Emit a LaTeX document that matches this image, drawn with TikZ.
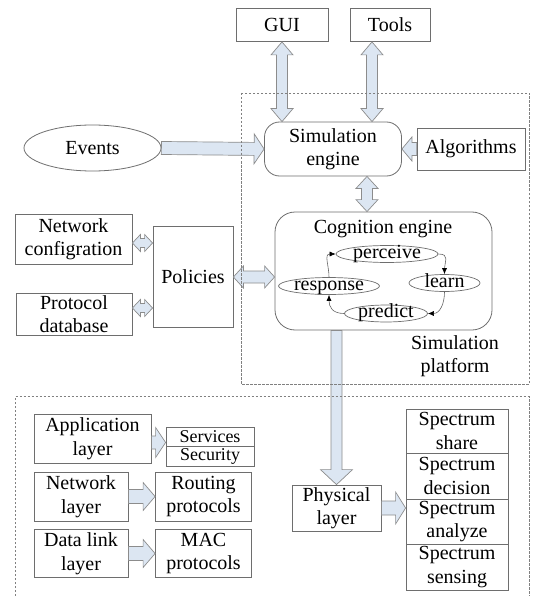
\documentclass[tikz,border=0pt]{standalone}
\usepackage{fontspec}
\setmainfont{Liberation Serif}
\usetikzlibrary{arrows.meta,calc,shapes.geometric}

\definecolor{arrowblue}{HTML}{DCE6F2}
\definecolor{boxline}{HTML}{6E6E6E}

\tikzset{
  box/.style={rectangle,draw=boxline,line width=0.8pt,fill=white,inner sep=0pt,align=center},
  rbox/.style={box,rounded corners=15pt},
  oval/.style={ellipse,draw=boxline,line width=0.7pt,fill=white,inner sep=0pt,
               text height=10pt,text depth=2pt},
  blockarrow/.style={draw=black!45,fill=arrowblue,line width=0.7pt,line join=miter},
  frame/.style={draw=black!50,dash pattern=on 2.5pt off 1.5pt,line width=0.7pt},
  cogarrow/.style={draw=black!60,line width=0.6pt,-{Latex[black,length=6pt,width=5pt]}}
}

% block arrows: {from}{to}{shaft half width}{head half width}{head length}
\newcommand{\sarrow}[5]{%
  \coordinate (ba1) at (#1); \coordinate (ba2) at (#2);
  \coordinate (bah) at ($(ba2)!#5pt!(ba1)$);
  \filldraw[blockarrow] ($(ba1)!#3pt!90:(ba2)$) -- ($(bah)!#3pt!90:(ba2)$)
    -- ($(bah)!#4pt!90:(ba2)$) -- (ba2) -- ($(bah)!#4pt!-90:(ba2)$)
    -- ($(bah)!#3pt!-90:(ba2)$) -- ($(ba1)!#3pt!-90:(ba2)$) -- cycle;}
\newcommand{\darrow}[5]{%
  \coordinate (ba1) at (#1); \coordinate (ba2) at (#2);
  \coordinate (bah) at ($(ba2)!#5pt!(ba1)$);
  \coordinate (bat) at ($(ba1)!#5pt!(ba2)$);
  \filldraw[blockarrow] (ba1) -- ($(bat)!#4pt!90:(ba2)$) -- ($(bat)!#3pt!90:(ba2)$)
    -- ($(bah)!#3pt!90:(ba2)$) -- ($(bah)!#4pt!90:(ba2)$) -- (ba2)
    -- ($(bah)!#4pt!-90:(ba2)$) -- ($(bah)!#3pt!-90:(ba2)$)
    -- ($(bat)!#3pt!-90:(ba2)$) -- ($(bat)!#4pt!-90:(ba2)$) -- cycle;}

\begin{document}
\begin{tikzpicture}[x=1pt,y=-1pt,font=\fontsize{20}{23.5}\selectfont]
\useasboundingbox (0,0) rectangle (532,596);

\begin{scope}[every node/.style={box}]
    \node[minimum width=92pt,minimum height=33pt] (gui) at (282,25) {GUI};
    \node[minimum width=80pt,minimum height=33pt] (tools) at (390,25) {Tools};
    \node[rbox,minimum width=137pt,minimum height=54pt] (sim) at (333,149) {Simulation\\engine};
    \node[minimum width=108pt,minimum height=42pt] (algo) at (471,149) {Algorithms};
    \node[minimum width=117pt,minimum height=50pt] (netcfg) at (73.5,239) {Network\\configration};
    \node[minimum width=116pt,minimum height=42pt] (protodb) at (74,314) {Protocol\\database};
    \node[minimum width=80pt,minimum height=101pt] (pol) at (193,277) {Policies};
    \node[rbox,rounded corners=20pt,minimum width=217pt,minimum height=118pt] (cog) at (383.5,271) {};
    \node[minimum width=117pt,minimum height=49pt] (app) at (92.5,438.5) {Application\\layer};
    \node[minimum width=88pt,minimum height=19.5pt,font=\fontsize{18}{20}\selectfont] (svc) at (210,437) {Services};
    \node[minimum width=88pt,minimum height=19.5pt,font=\fontsize{18}{20}\selectfont] (sec) at (210,456.5) {Security};
    \node[minimum width=94pt,minimum height=49pt] (netl) at (81,496.5) {Network\\layer};
    \node[minimum width=96pt,minimum height=49pt] (rout) at (203.5,496.5) {Routing\\protocols};
    \node[minimum width=94pt,minimum height=48pt] (dll) at (81,553.5) {Data link\\layer};
    \node[minimum width=96pt,minimum height=48pt] (mac) at (203.5,553.5) {MAC\\protocols};
    \node[minimum width=89pt,minimum height=46pt] (phys) at (336.5,508) {Physical\\layer};
    \node[minimum width=102pt,minimum height=44pt] (sshare) at (457,431) {Spectrum\\share};
    \node[minimum width=102pt,minimum height=46pt] (sdec) at (457,476) {Spectrum\\decision};
    \node[minimum width=102pt,minimum height=45pt] (sana) at (457,521.5) {Spectrum\\analyze};
    \node[minimum width=102pt,minimum height=46pt] (ssens) at (457,567) {Spectrum\\sensing};
\end{scope}

\node[ellipse,draw=boxline,line width=0.8pt,fill=white,minimum width=137pt,minimum height=46pt] (events) at (92.5,148) {Events};
\node (coglbl) at (383,229) {Cognition engine};
\node[align=center] (platlbl) at (455,356) {Simulation\\platform};

\begin{scope}[every node/.style={oval}]
    \node[minimum width=102pt] (perceive) at (387,254) {perceive};
    \node[minimum width=71pt] (learn) at (444.5,283) {learn};
    \node[minimum width=101pt] (response) at (329,286) {response};
    \node[minimum width=83pt] (predict) at (386,313.5) {predict};
\end{scope}

\draw[cogarrow] (perceive.east) .. controls +(12pt,0pt) and +(0pt,12pt) .. (learn.north);
\draw[cogarrow] (learn.south) .. controls +(0pt,-12pt) and +(12pt,0pt) .. (predict.east);
\draw[cogarrow] (predict.west) .. controls +(-12pt,0pt) and +(0pt,-12pt) .. (response.south);
\draw[cogarrow] (response.north) .. controls +(0pt,12pt) and +(-12pt,0pt) .. (perceive.west);

% block arrows
\coordinate (guib) at (gui.south |- sim.north);
\coordinate (toolst) at ([xshift=-18pt]tools.south);
\coordinate (toolsb) at (toolst |- sim.north);
\coordinate (simb) at ([xshift=34pt]sim.south);
\coordinate (cogt) at (simb |- cog.north);
\coordinate (cfga) at ([yshift=-4pt]netcfg.east);
\coordinate (cfgb) at (cfga -| pol.west);
\coordinate (dba) at ([yshift=6pt]protodb.east);
\coordinate (dbb) at (dba -| pol.west);
\coordinate (polb) at (pol.east -| cog.west);
\coordinate (cogb) at (cog.south -| phys.north);
\coordinate (appa) at ([yshift=-4pt]app.east);
\coordinate (appb) at (appa -| svc.west);
\coordinate (physb) at (phys.east -| sana.west);

\darrow{gui.south}{guib}{5.5}{11}{13}
\darrow{toolst}{toolsb}{5.5}{11}{13}
\darrow{simb}{cogt}{5.5}{11}{12}
\sarrow{events.east}{sim.west}{6.5}{15}{10}
\sarrow{algo.west}{sim.east}{6.5}{12}{10}
\darrow{cfga}{cfgb}{4.5}{8.5}{8}
\darrow{dba}{dbb}{4.5}{8.5}{8}
\darrow{pol.east}{polb}{6}{11}{10}
\sarrow{cogb}{phys.north}{5.5}{16}{15}
\sarrow{phys.east}{physb}{7}{16}{10}
\sarrow{appa}{appb}{6.5}{15}{10}
\sarrow{netl.east}{rout.west}{7}{14}{12}
\sarrow{dll.east}{mac.west}{7}{14}{12}

% dashed frames
\draw[frame] (241,93) rectangle (529,384);
\draw[frame] (15,600) -- (15,396.5) -- (529,396.5) -- (529,600);
\end{tikzpicture}
\end{document}
